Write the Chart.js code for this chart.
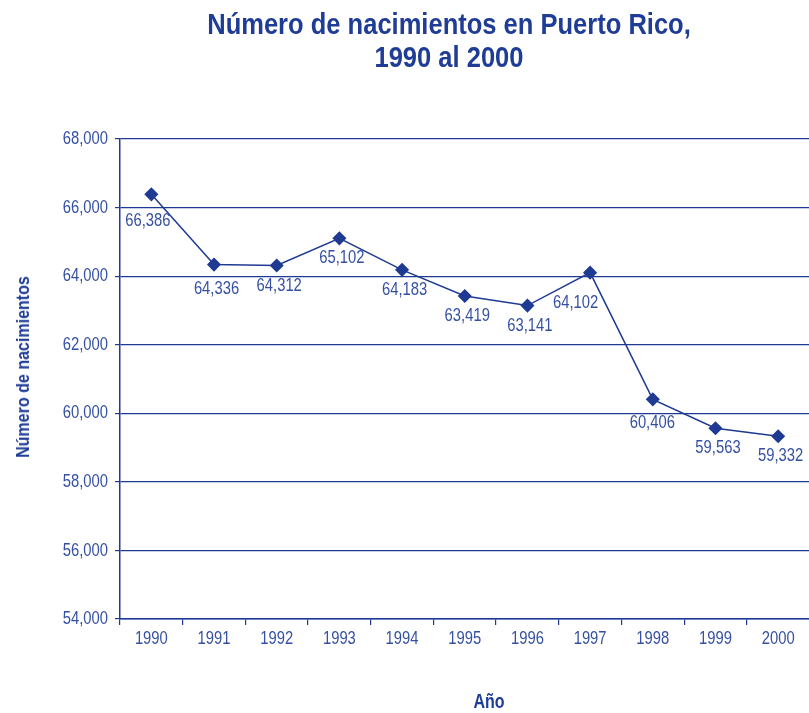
<!DOCTYPE html>
<html>
<head>
<meta charset="utf-8">
<script src="https://cdn.jsdelivr.net/npm/chart.js@4.4.1/dist/chart.umd.min.js"></script>
<style>
  html, body { margin: 0; padding: 0; background: #fff; overflow: hidden; }
  #wrap { position: relative; width: 809px; height: 713px; overflow: hidden; }
  canvas { position: absolute; left: 0; top: 0; }
  .txt { position: absolute; font-family: "Liberation Sans", Arial, sans-serif; font-weight: bold; color: #1f3c96; white-space: nowrap; }
  #title { left: 448.5px; top: 8px; transform: translateX(-50%) scaleX(0.88); font-size: 29px; line-height: 33px; text-align: center; }
  #ytitle { left: 23px; top: 367px; transform: translate(-50%, -50%) rotate(-90deg) scaleX(0.89); font-size: 18px; line-height: 18px; }
  #xtitle { left: 489px; top: 691px; transform: translateX(-50%) scaleX(0.8); font-size: 20px; line-height: 20px; }
</style>
</head>
<body>
<div id="wrap">
  <canvas id="chart" width="817" height="713"></canvas>
  <div id="title" class="txt">Número de nacimientos en Puerto Rico,<br>1990 al 2000</div>
  <div id="ytitle" class="txt">Número de nacimientos</div>
  <div id="xtitle" class="txt">Año</div>
</div>
<script>
// data
const years = ['1990', '1991', '1992', '1993', '1994', '1995', '1996', '1997', '1998', '1999', '2000'];
const births = [66386, 64336, 64312, 65102, 64183, 63419, 63141, 64102, 60406, 59563, 59332];
const yMin = 54000;
const yMax = 68000;
const yStep = 2000;

const navy = '#1f3a93';
const textBlue = '#3550a2';
const fontFamily = '"Liberation Sans", Arial, sans-serif';
const squeeze = 0.8; // the original uses a condensed face

// label nudges where the original moved a label off the default spot
const labelShift = { '1990': [-6, 7], '1991': [0, 4], '1997': [-17, 10], '1998': [-3, 4] };

function narrowText(ctx, text, x, y, align) {
  ctx.save();
  ctx.translate(x, y);
  ctx.scale(squeeze, 1);
  ctx.textAlign = align;
  ctx.fillText(text, 0, 0);
  ctx.restore();
}

// tick labels + value labels, drawn narrow
const narrowLabels = {
  id: 'narrowLabels',
  afterDraw(chart) {
    const ctx = chart.ctx;
    const xs = chart.scales.x;
    const ys = chart.scales.y;
    ctx.save();
    ctx.font = '18.5px ' + fontFamily;
    ctx.fillStyle = textBlue;
    ctx.textBaseline = 'middle';

    ys.ticks.forEach((t, i) => {
      narrowText(ctx, t.value.toLocaleString('en-US'), ys.right - 12, ys.getPixelForTick(i), 'right');
    });
    xs.ticks.forEach((t, i) => {
      narrowText(ctx, years[i], xs.getPixelForTick(i), xs.top + 20, 'center');
    });

    const meta = chart.getDatasetMeta(0);
    meta.data.forEach((pt, i) => {
      const s = labelShift[years[i]] || [0, 0];
      narrowText(ctx, births[i].toLocaleString('en-US'), pt.x + 2.5 + s[0], pt.y + 20 + s[1], 'center');
    });
    ctx.restore();
  }
};

new Chart(document.getElementById('chart'), {
  type: 'line',
  data: {
    labels: years,
    datasets: [{
      label: 'Nacimientos',
      data: births,
      borderColor: navy,
      backgroundColor: navy,
      borderWidth: 1.5,
      pointStyle: 'rectRot',
      pointRadius: 6,
      pointHoverRadius: 6,
      tension: 0
    }]
  },
  options: {
    responsive: false,
    animation: false,
    layout: { padding: { top: 139, left: 0, right: 0, bottom: 0 } },
    plugins: {
      legend: { display: false },
      title: { display: false },
      tooltip: { enabled: false }
    },
    scales: {
      x: {
        offset: true,
        afterFit: (scale) => { scale.height = 94; },
        grid: { offset: true, drawOnChartArea: false, drawTicks: true, tickLength: 6, color: navy, lineWidth: 1.2 },
        border: { display: true, color: navy, width: 1.5 },
        ticks: { display: false }
      },
      y: {
        min: yMin,
        max: yMax,
        afterFit: (scale) => { scale.width = 120; },
        grid: { color: navy, lineWidth: 1.2, drawTicks: true, tickLength: 5 },
        border: { display: true, color: navy, width: 1.5 },
        ticks: { stepSize: yStep, display: false }
      }
    }
  },
  plugins: [narrowLabels]
});
</script>
</body>
</html>
